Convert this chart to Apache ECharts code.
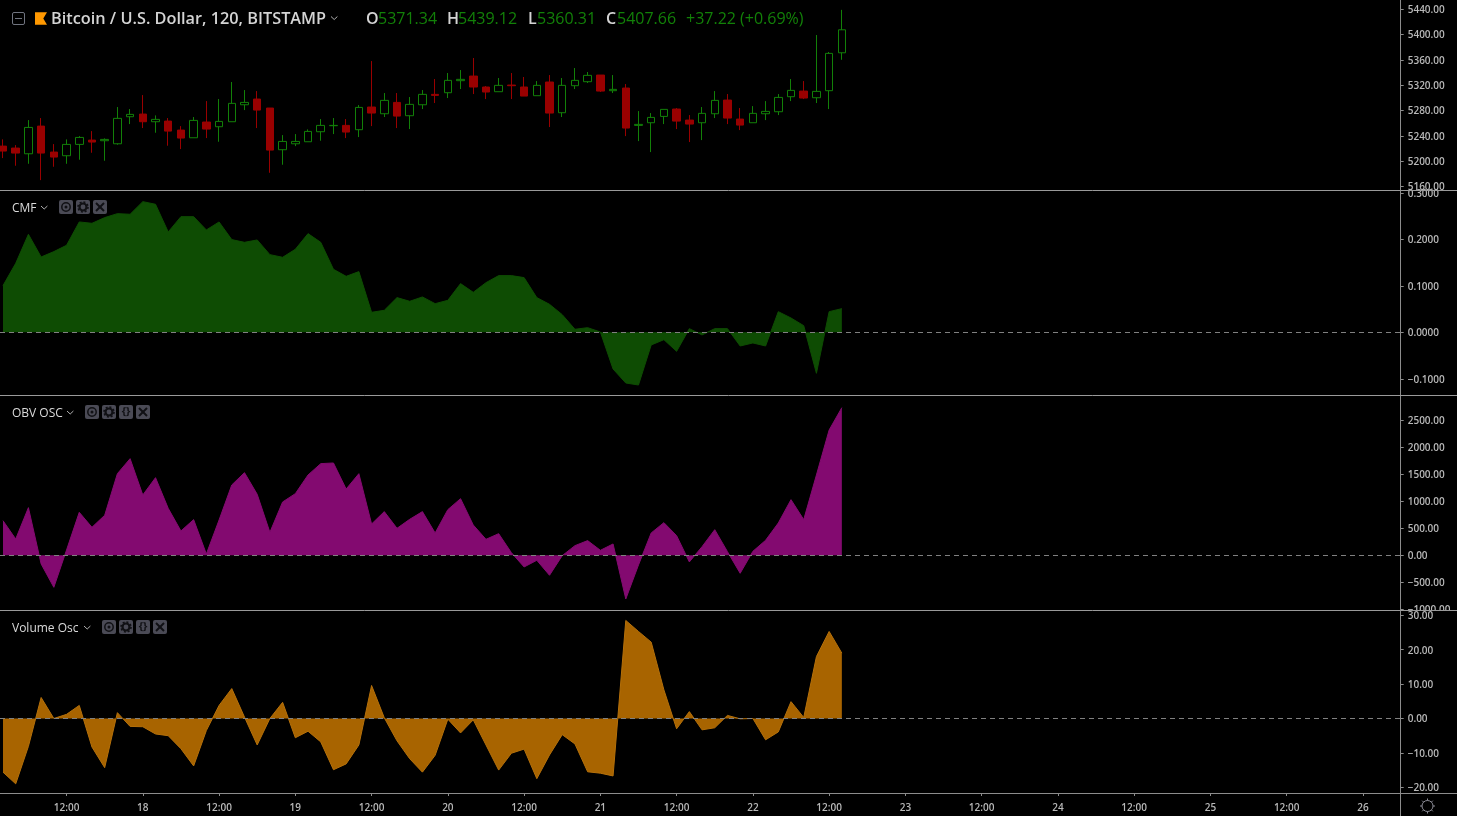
<!DOCTYPE html>
<html>
<head>
<meta charset="utf-8">
<title>Bitcoin / U.S. Dollar</title>
<script src="https://cdn.jsdelivr.net/npm/echarts@6/dist/echarts.min.js"></script>
<style>html,body{margin:0;padding:0;background:#000;overflow:hidden}#chart{width:1457px;height:816px}</style>
</head>
<body>
<div id="chart"></div>
<script>
const openVals = [5224.0,5220.9,5211.9,5255.6,5214.6,5208.8,5226.7,5233.5,5232.5,5227.7,5270.4,5274.6,5262.5,5263.5,5249.3,5237.2,5262,5254.6,5262.5,5289.3,5298.3,5284.1,5218.3,5227.7,5230.9,5246.7,5256.2,5256.7,5249.9,5285.7,5275.1,5293,5272,5289.3,5305.7,5308.3,5327.3,5334.6,5317.3,5309.9,5320.4,5317.3,5303.6,5325.2,5276.7,5319.4,5325.7,5336.2,5311.5,5315.7,5256.7,5260.9,5270.9,5282.5,5265.1,5260.9,5275.1,5296.7,5266.7,5260.9,5275.1,5278.3,5302,5310.9,5300.4,5311.5,5371.34];
const closeVals = [5216.2,5213.0,5253.5,5213.0,5206.7,5226.7,5237.7,5230.4,5234.6,5267.8,5274.1,5262.5,5266.2,5247.7,5236.7,5264.6,5250.9,5263,5291.5,5293,5280.9,5217.7,5231.4,5231.4,5247.2,5256.7,5256.7,5246.2,5285.1,5276.2,5296.2,5271.4,5289.9,5305.7,5304.1,5327.8,5329.4,5317.3,5309.4,5319.9,5319.4,5303,5319.9,5276.2,5319.9,5327.8,5335.7,5310.9,5313.6,5252.5,5258.3,5269.3,5282,5263.5,5258.8,5275.7,5296.2,5268.3,5257.2,5275.7,5278.8,5300.9,5312,5299.9,5310.4,5370.4,5407.66];
const lowVals = [5205.1,5193.0,5196.1,5170.3,5191.4,5196.1,5202.5,5213.5,5200.9,5226.2,5258.8,5252.5,5245.1,5224.6,5219.3,5237.2,5236.7,5230.9,5262.5,5280.9,5252.5,5181.9,5194.6,5224,5230.9,5232.5,5243,5236.7,5238.3,5255.6,5269.9,5252.5,5250.9,5282.5,5292,5299.9,5314.1,5306.2,5298.3,5309.9,5298.3,5303,5303.6,5254.1,5269.9,5314.1,5323.6,5309.4,5307.8,5239.8,5231.9,5214.6,5258.8,5250.9,5230.4,5233.5,5268.3,5258.8,5249.3,5260.9,5265.1,5273,5295.1,5298.3,5292,5282.5,5360.31];
const highVals = [5234.6,5225.6,5265.1,5268.3,5227.2,5234.6,5239.8,5247.7,5236.2,5285.7,5282.5,5304.6,5272.5,5268.3,5255.6,5269.9,5295.1,5298.3,5325.2,5312.5,5310.9,5284.1,5241.4,5243,5250.4,5266.7,5268.3,5266.7,5288.8,5358.3,5307.8,5307.8,5301.5,5312.5,5329.9,5339.4,5344.1,5363.1,5318.8,5331.5,5339.4,5333.1,5326.7,5336.2,5331.5,5347.3,5341,5336.2,5336.2,5322,5279.3,5276.2,5282,5284.1,5273,5285.7,5310.9,5306.2,5284.1,5287.2,5295.1,5306.2,5329.9,5326.7,5399.4,5372.6,5439.12];
const cmfVals = [.1004,.1484,.2108,.1620,.1735,.1871,.2373,.2344,.2466,.2552,.2538,.2810,.2753,.2158,.2487,.2487,.2201,.2373,.1993,.1935,.1986,.1670,.1613,.1785,.2122,.1935,.1355,.1204,.1305,.0430,.0473,.0746,.0667,.0760,.0616,.0688,.1047,.0860,.1068,.1219,.1219,.1176,.0746,.0602,.0380,.0065,.0100,.0007,-.0789,-.1090,-.1133,-.0272,-.0158,-.0409,.0079,-.0057,.0079,.0079,-.0294,-.0229,-.0294,.0444,.0308,.0143,-.0882,.0444,.0509];
const obvVals = [642,302,883,-160,-593,99,796,519,741,1512,1790,1117,1438,870,451,661,25,654,1303,1531,1130,426,988,1142,1488,1698,1710,1228,1512,580,809,500,667,809,414,846,1049,562,296,401,49,-216,-93,-370,-6,179,272,93,210,-809,-179,414,605,364,-123,160,475,68,-333,74,278,599,1031,661,1488,2321,2735];
const volVals = [-15.6,-19.0,-8.1,6.1,0.0,1.2,3.8,-8.3,-14.3,1.7,-2.3,-2.4,-4.5,-5.0,-8.8,-13.8,-3.5,3.8,8.7,0.4,-7.7,0,4.7,-5.6,-3.7,-6.8,-14.9,-13.2,-7.7,9.6,0.2,-6.5,-11.7,-15.6,-10.7,-0.2,-4.2,-0.4,-7.7,-15.0,-10.1,-8.9,-17.5,-10.6,-4.7,-7.4,-15.5,-15.9,-16.7,28.5,25.3,22.2,8.3,-3.0,2.0,-3.3,-2.7,0.9,-0.1,0,-6.2,-3.9,4.9,0.3,18.0,25.3,19.0];
const priceTicks = [5440,5400,5360,5320,5280,5240,5200,5160];
const cmfTicks = [0.3,0.2,0.1,0,-0.1];
const obvTicks = [2500,2000,1500,1000,500,0,-500,-1000];
const volTicks = [30,20,10,0,-10,-20];
const timeTickBars = [5,11,17,23,29,35,41,47,53,59,65,71,77,83,89,95,101,107];
const timeTickLabels = ['12:00','18','12:00','19','12:00','20','12:00','21','12:00','22','12:00','23','12:00','24','12:00','25','12:00','26'];

const FONT = '"Open Sans", sans-serif';
const LABEL = '#b8b8b8', LINE = '#8c8c8c', UP = '#128008', DOWN = '#990000', BTN = '#4a4a55', ICON = '#101014';
const panes = [[0,190],[190,205],[395,215],[610,183]];
const RIGHT = 56.3;

const xCommon = {type:'value', min:-0.236, max:109.97, splitLine:{show:false}};
const xAxis = panes.map((p,i)=> i===3 ? Object.assign({gridIndex:i}, xCommon, {
    axisLine:{show:true,onZero:false,lineStyle:{color:LINE}},
    axisTick:{show:true,length:3,lineStyle:{color:LINE},customValues:timeTickBars},
    axisLabel:{show:true,color:LABEL,fontFamily:FONT,fontSize:10,fontWeight:600,margin:10,customValues:timeTickBars,
      formatter:v=>timeTickLabels[timeTickBars.indexOf(v)]||''}
  }) : Object.assign({gridIndex:i,show:false}, xCommon));

function yAxisFor(i,min,max,ticks,digits,z){
  return {type:'value',gridIndex:i,position:'right',min,max,scale:true,z,splitLine:{show:false},
    axisLine:{show:true,onZero:false,lineStyle:{color:LINE}},
    axisTick:{show:true,length:3,lineStyle:{color:LINE},customValues:ticks},
    axisLabel:{color:LABEL,fontFamily:FONT,fontSize:10,fontWeight:600,margin:7,customValues:ticks,
      showMinLabel:true,showMaxLabel:true,hideOverlap:false,
      rich:{t:{color:LABEL,fontFamily:FONT,fontSize:10,fontWeight:600,padding:[2,0,0,0]}},
      formatter:v=>'{t|'+(v<0?'\u2212':'')+Math.abs(v).toFixed(digits)+'}'}};
}
const yAxis = [
  yAxisFor(0,5154.7,5454.7,priceTicks,2,4),
  yAxisFor(1,-0.1348,0.306,cmfTicks,4,4),
  yAxisFor(2,-1013,2969,obvTicks,2,4),
  yAxisFor(3,-21.66,31.54,volTicks,2,8)
];

function areaSeries(i,vals,fill,stroke){
  return {type:'line',xAxisIndex:i,yAxisIndex:i,data:vals.map((v,k)=>[k,v]),showSymbol:false,symbol:'none',smooth:false,
    silent:true,animation:false,lineStyle:{color:stroke,width:1},areaStyle:{color:fill,opacity:1},itemStyle:{color:fill},
    markLine:{silent:true,symbol:'none',animation:false,label:{show:false},
      lineStyle:{color:'#808080',width:1,type:[5,4]},data:[{yAxis:0}]}};
}

const series = [
  {type:'candlestick',xAxisIndex:0,yAxisIndex:0,barWidth:8,animation:false,silent:true,
   encode:{x:0,y:[1,2,3,4]},
   data:openVals.map((o,k)=>[k,o,closeVals[k],lowVals[k],highVals[k]]),
   itemStyle:{color:'#000',color0:DOWN,borderColor:UP,borderColor0:DOWN,borderWidth:1}},
  areaSeries(1,cmfVals,'#0e4c03','#0e4c03'),
  areaSeries(2,obvVals,'#830a70','#830a70'),
  areaSeries(3,volVals,'#a86400','#b5700a')
];

/* ---------- header, legends and icons ---------- */
const g = [];
const txt = (text,x,y,fill,font)=>g.push({type:'text',z:50,silent:true,style:{text,x,y,fill,font,textVerticalAlign:'middle'}});
const line = (x1,y1,x2,y2,stroke,lineWidth=1)=>g.push({type:'line',z:50,silent:true,shape:{x1,y1,x2,y2},style:{stroke,lineWidth}});
const chevron = (x,y)=>g.push({type:'polyline',z:50,silent:true,shape:{points:[[x,y],[x+3.2,y+3],[x+6.4,y]]},style:{stroke:'#b0b0b0',lineWidth:1,fill:'none'}});

/* the lowest OBV label is cut off by the pane below it */
g.push({type:'rect',z:6,silent:true,shape:{x:1405,y:610,width:52,height:6},style:{fill:'#000'}});

[190.5,395.5,610.5].forEach(y=>line(0,y,1457,y,'#9a9a9a'));
line(0,793.5,1457,793.5,LINE);
line(1400.5,793,1400.5,816,LINE);

g.push({type:'rect',z:50,silent:true,shape:{x:12.5,y:12.5,width:12,height:12,r:1.5},style:{fill:'none',stroke:'#70747f',lineWidth:1}});
line(15,18.5,22,18.5,'#70747f');
g.push({type:'polygon',z:50,silent:true,shape:{points:[[35,12.3],[47,12.3],[43.3,18.5],[47,24.7],[35,24.7]]},style:{fill:'#ff9800'}});
txt('Bitcoin / U.S. Dollar, 120, BITSTAMP',51,19,'#d4d4d4','600 16.3px '+FONT);
chevron(331,16.5);

const HEAD='600 16px '+FONT, VAL='16px '+FONT;
[['O',366,'5371.34',378],['H',447,'5439.12',458],['L',528,'5360.31',537],['C',606,'5407.66',617]].forEach(r=>{
  txt(r[0],r[1],19,'#d4d4d4',HEAD); txt(r[2],r[3],19,UP,VAL);
});
txt('+37.22 (+0.69%)',686,19,UP,VAL);

function button(kind,x,y){
  g.push({type:'rect',z:50,silent:true,shape:{x,y,width:14,height:14,r:2},style:{fill:BTN}});
  const cx=x+7, cy=y+7;
  if(kind==='eye'){
    g.push({type:'circle',z:51,silent:true,shape:{cx,cy,r:4.2},style:{fill:'none',stroke:ICON,lineWidth:1.5}});
    g.push({type:'circle',z:51,silent:true,shape:{cx,cy,r:1.5},style:{fill:ICON}});
  } else if(kind==='gear'){
    g.push({type:'circle',z:51,silent:true,shape:{cx,cy,r:3.5},style:{fill:'none',stroke:ICON,lineWidth:2.2}});
    g.push({type:'circle',z:51,silent:true,shape:{cx,cy,r:5},style:{fill:'none',stroke:ICON,lineWidth:1.6,lineDash:[2,1.9]}});
  } else if(kind==='code'){
    g.push({type:'text',z:51,silent:true,style:{text:'{}',x:cx,y:cy,fill:ICON,font:'bold 11px '+FONT,textAlign:'center',textVerticalAlign:'middle'}});
  } else {
    g.push({type:'line',z:51,silent:true,shape:{x1:x+3,y1:y+3,x2:x+11,y2:y+11},style:{stroke:ICON,lineWidth:2}});
    g.push({type:'line',z:51,silent:true,shape:{x1:x+11,y1:y+3,x2:x+3,y2:y+11},style:{stroke:ICON,lineWidth:2}});
  }
}
const LEG='12px '+FONT, LEGC='#dadada';
txt('CMF',12,208.5,LEGC,LEG); chevron(41,206);
[['eye',59],['gear',76],['x',93]].forEach(b=>button(b[0],b[1],200));
txt('OBV OSC',12,413.5,LEGC,LEG); chevron(67,411);
[['eye',85],['gear',102],['code',119],['x',136]].forEach(b=>button(b[0],b[1],405));
txt('Volume Osc',12,628.5,LEGC,LEG); chevron(84,626);
[['eye',102],['gear',119],['code',136],['x',153]].forEach(b=>button(b[0],b[1],620));

/* settings icon, bottom right */
g.push({type:'circle',z:50,silent:true,shape:{cx:1427.5,cy:806,r:5.5},style:{fill:'none',stroke:'#8c8c96',lineWidth:1}});
[[0,-1],[0,1],[1,0],[-1,0],[.71,.71],[-.71,.71],[.71,-.71],[-.71,-.71]].forEach(d=>
  line(1427.5+d[0]*5.5,806+d[1]*5.5,1427.5+d[0]*7.5,806+d[1]*7.5,'#8c8c96'));

const chart = echarts.init(document.getElementById('chart'),null,{renderer:'canvas'});
chart.setOption({
  animation:false,backgroundColor:'#000',tooltip:{show:false},
  grid:panes.map(p=>({left:0,right:RIGHT,top:p[0],height:p[1],containLabel:false})),
  xAxis,yAxis,series,graphic:g
});
</script>
</body>
</html>
